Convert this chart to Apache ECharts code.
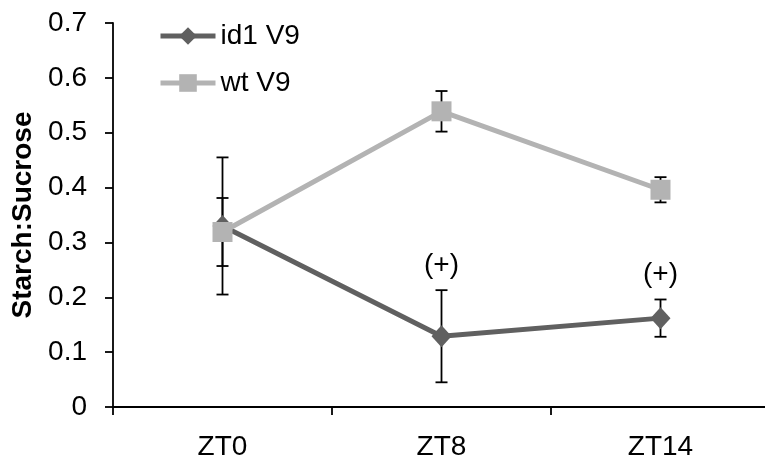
<!DOCTYPE html>
<html>
<head>
<meta charset="utf-8">
<script src="https://cdn.jsdelivr.net/npm/echarts@6/dist/echarts.min.js"></script>
<style>html,body{margin:0;padding:0;background:#fff}#c{width:765px;height:456px}</style>
</head>
<body>
<div id="c"></div>
<script>
const categories = ['ZT0', 'ZT8', 'ZT14'];
const id1Values = [0.33, 0.129, 0.162];
const id1Errors = [0.125, 0.084, 0.034];
const wtValues = [0.319, 0.539, 0.396];
const wtErrors = [0.062, 0.037, 0.023];
const id1Notes = ['', '(+)', '(+)'];
const yTicks = [0, 0.1, 0.2, 0.3, 0.4, 0.5, 0.6, 0.7];

const FONT = 'Liberation Sans, Arial, sans-serif';
const errData = (vals, errs) => vals.map((v, i) => [i, v - errs[i], v + errs[i]]);

function errRender(notes) {
  return function (params, api) {
    const x = api.value(0);
    const lo = api.coord([x, api.value(1)]);
    const hi = api.coord([x, api.value(2)]);
    const w = 6;
    const st = { stroke: '#000', lineWidth: 1.8 };
    const children = [
      { type: 'line', shape: { x1: hi[0], y1: hi[1], x2: lo[0], y2: lo[1] }, style: st },
      { type: 'line', shape: { x1: hi[0] - w, y1: hi[1], x2: hi[0] + w, y2: hi[1] }, style: st },
      { type: 'line', shape: { x1: lo[0] - w, y1: lo[1], x2: lo[0] + w, y2: lo[1] }, style: st }
    ];
    const note = notes && notes[params.dataIndex];
    if (note) {
      children.push({
        type: 'text',
        style: { text: note, x: hi[0], y: hi[1] - 25, align: 'center', verticalAlign: 'middle',
                 font: '28px ' + FONT, fill: '#000' }
      });
    }
    return { type: 'group', children };
  };
}

const chart = echarts.init(document.getElementById('c'));
chart.setOption({
  animation: false,
  backgroundColor: '#fff',
  grid: { left: 113, top: 23, width: 657, bottom: 49, containLabel: false, outerBoundsMode: 'none' },
  legend: {
    data: ['id1 V9', 'wt V9'],
    orient: 'vertical',
    left: 153, top: 15,
    itemWidth: 55, itemHeight: 22, itemGap: 15,
    lineStyle: { width: 5 },
    textStyle: { fontSize: 28, fontFamily: FONT, color: '#000', lineHeight: 32 }
  },
  xAxis: {
    type: 'category',
    data: categories,
    boundaryGap: true,
    axisLine: { lineStyle: { color: '#000', width: 1.8 } },
    axisTick: { show: true, length: 8, lineStyle: { color: '#000', width: 1.8 } },
    axisLabel: { fontSize: 28, fontFamily: FONT, color: '#000', margin: 26 }
  },
  yAxis: {
    type: 'value',
    min: 0, max: 0.7, interval: 0.1,
    name: 'Starch:Sucrose',
    nameLocation: 'middle',
    nameGap: 74,
    nameTextStyle: { fontSize: 28, fontWeight: 'bold', fontFamily: FONT, color: '#000' },
    splitLine: { show: false },
    axisLine: { show: true, lineStyle: { color: '#000', width: 1.8 } },
    axisTick: { show: true, length: 8, lineStyle: { color: '#000', width: 1.8 } },
    axisLabel: { fontSize: 28, fontFamily: FONT, color: '#000', margin: 26,
                 formatter: v => yTicks.includes(+v.toFixed(1)) ? String(+v.toFixed(1)) : '' }
  },
  series: [
    { type: 'custom', name: 'id1 err', renderItem: errRender(id1Notes), data: errData(id1Values, id1Errors), z: 1, silent: true },
    { type: 'custom', name: 'wt err', renderItem: errRender(null), data: errData(wtValues, wtErrors), z: 1, silent: true },
    {
      type: 'line', name: 'id1 V9', data: id1Values, z: 3,
      symbol: 'diamond', symbolSize: [20, 22],
      lineStyle: { color: '#606060', width: 5 },
      itemStyle: { color: '#606060' }
    },
    {
      type: 'line', name: 'wt V9', data: wtValues, z: 4,
      symbol: 'rect', symbolSize: 20,
      lineStyle: { color: '#b3b3b3', width: 5 },
      itemStyle: { color: '#b3b3b3' }
    }
  ]
});
</script>
</body>
</html>
